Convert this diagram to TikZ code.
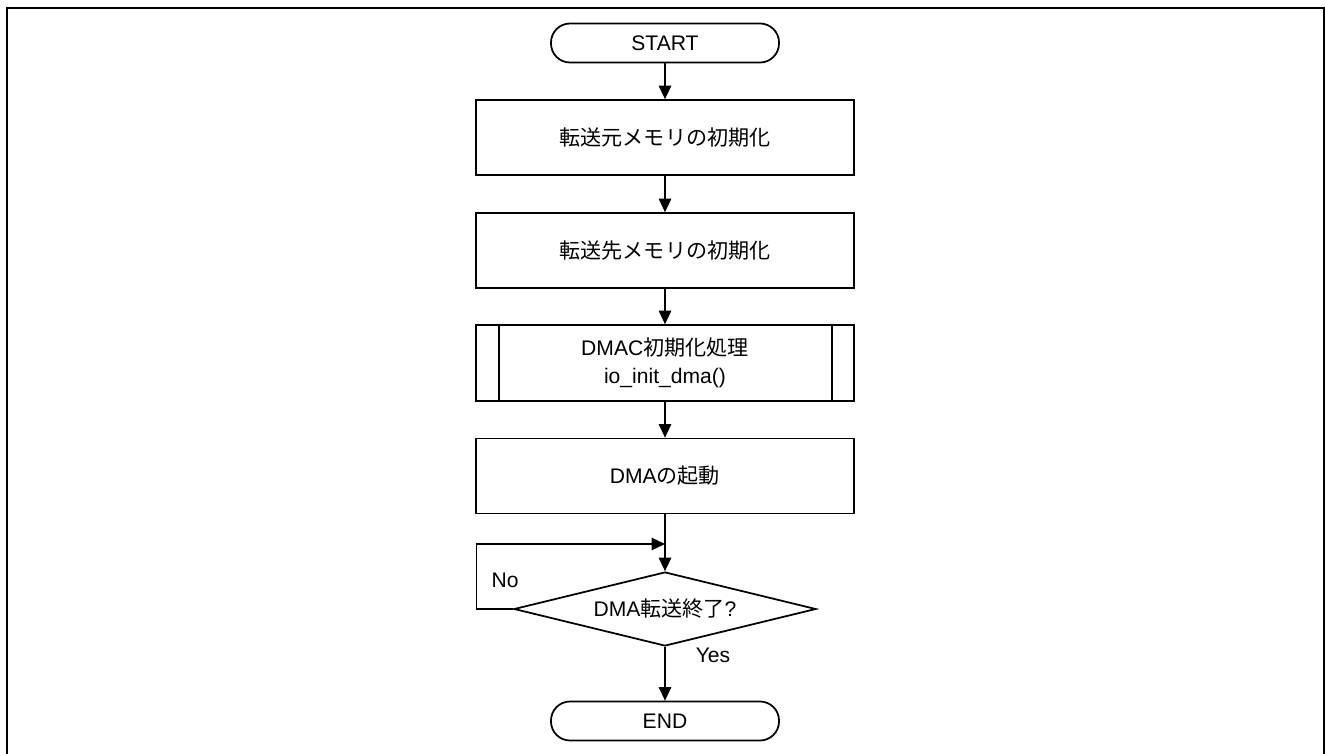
\documentclass[tikz,border=0pt]{standalone}
\usepackage{fontspec}
\setmainfont{Liberation Sans}
\newfontfamily\jpfont{Noto Sans CJK JP}
\usepackage{tikz}
\usetikzlibrary{arrows.meta,shapes.geometric}
\newcommand{\jp}[1]{{\jpfont #1}}

\begin{document}
\begin{tikzpicture}[
		font=\fontsize{12}{16}\selectfont,
		terminal/.style={draw, line width=1pt, rounded corners=0.38cm, minimum width=4.56cm, minimum height=0.78cm, inner sep=0pt},
		process/.style={draw, line width=1pt, minimum width=7.56cm, minimum height=1.5cm, inner sep=0pt, align=center},
		decision/.style={draw, line width=1pt, diamond, aspect=4.08, minimum width=6.04cm, minimum height=1.48cm, inner sep=0pt},
		flow/.style={line width=0.7pt, -{Triangle[length=2.7mm,width=2.5mm]}}
	]
			%%%%% FRAME %%%%%
			
			\useasboundingbox (0, 0) rectangle (26.52, -15.06);
			\draw[line width=1.3pt] (0.14, -15.2) -- (0.14, -0.16) -- (26.48, -0.16) -- (26.48, -15.2);
			
			%%%%% BOXES %%%%%
			
			\node[terminal] (start) at (13.3, -0.86) {START};
			\node[process] (initsrc) at (13.3, -2.75) {\jp{転送元メモリの初期化}};
			\node[process] (initdst) at (13.3, -5.01) {\jp{転送先メモリの初期化}};
			\node[process, minimum height=1.52cm] (initdmac) at (13.3, -7.26) {DMAC\jp{初期化処理}\\io\_init\_dma()};
			\draw[line width=1pt] ([xshift=0.48cm]initdmac.north west) -- ([xshift=0.48cm]initdmac.south west);
			\draw[line width=1pt] ([xshift=-0.46cm]initdmac.north east) -- ([xshift=-0.46cm]initdmac.south east);
			\node[process] (rundma) at (13.3, -9.52) {DMA\jp{の起動}};
			\node[decision] (done) at (13.3, -12.18) {DMA\jp{転送終了}?};
			\node[terminal] (stop) at (13.3, -14.42) {END};
			
			\coordinate (merge) at (13.3, -10.88);
			
			%%%%% ARROWS %%%%%
			
			\draw[flow] (start) -- (initsrc);
			\draw[flow] (initsrc) -- (initdst);
			\draw[flow] (initdst) -- (initdmac);
			\draw[flow] (initdmac) -- (rundma);
			\draw[flow] (rundma) -- (done);
			\draw[flow] (done.west) -- ++(-0.74, 0) |- (merge);
			\draw[flow] (done) -- (stop);
			
			\node (no) at (10.1, -11.6) {No};
			\node (yes) at (14.26, -13.1) {Yes};
			
			%%%%% END %%%%%
\end{tikzpicture}
\end{document}
